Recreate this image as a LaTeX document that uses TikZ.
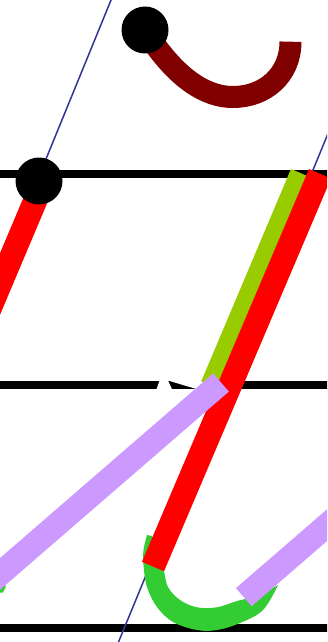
\documentclass[tikz,border=0pt]{standalone}
\definecolor{maroonc}{RGB}{128,0,0}
\definecolor{redc}{RGB}{255,0,0}
\definecolor{limec}{RGB}{153,204,0}
\definecolor{lavc}{RGB}{204,153,255}
\definecolor{greenc}{RGB}{51,204,51}
\definecolor{bluec}{RGB}{51,51,153}
\begin{document}
\begin{tikzpicture}[x=1pt,y=-1pt,
  rule/.style={line width=8pt,black},
  guide/.style={line width=1.5pt,bluec},
  pen/.style={line width=24pt,line cap=butt},
  dotc/.style={circle,fill=black,minimum size=47pt,inner sep=0pt,outer sep=0pt}]
\useasboundingbox (0,0) rectangle (327,642);
\begin{scope}
\clip (0,0) rectangle (327,642);
% ruling lines
\coordinate (r1a) at (-5,174);   \coordinate (r1b) at (332,174);
\coordinate (r2a) at (-5,384.5); \coordinate (r2b) at (332,384.5);
\coordinate (r3a) at (-5,627.5); \coordinate (r3b) at (332,627.5);
\draw[rule] (r1a) -- (r1b);
\draw[rule] (r2a) -- (r2b);
\draw[rule] (r3a) -- (r3b);
% white gap in the middle line
\fill[white] (156.5,389.2) -- (159.8,379.8) -- (210,379.8) -- (210,389.2)
  -- (197,389.2) -- (168,380.5) -- (172,389.2) -- cycle;
% slant guide lines
\coordinate (g1a) at (113.5,-6); \coordinate (g1b) at (37,181);
\coordinate (g2a) at (333.6,120); \coordinate (g2b) at (118.5,642);
\draw[guide] (g1a) -- (g1b);
\draw[guide] (g2a) -- (g2b);
% maroon hook with dot
\coordinate (m0) at (145,30); \coordinate (m1) at (233,97); \coordinate (m2) at (290.5,41.7);
\draw[line width=22pt,line cap=butt,maroonc] (m0) .. controls (170,70) and (200,97) .. (m1)
  .. controls (265,97) and (290.5,75) .. (m2);
\node[dotc] (d1) at (m0) {};
% left red stroke with dot
\coordinate (la) at (43.5,181); \coordinate (lb) at (-30,355);
\draw[pen,redc] (la) -- (lb);
\node[dotc] (d2) at (39,181) {};
% green U
\fill[greenc] plot[smooth,tension=0.6] coordinates {(147,535) (143.5,550) (143.5,565) (147,587) (157,607) (173,622) (197,630) (217,630) (240,623) (263,610) (278,585)}
  -- plot[smooth,tension=0.6] coordinates {(278,585) (268,590.5) (253,597) (237,601) (217,607.3) (197,607.3) (180,600) (168,587) (164,571) (159,553) (152,536)} -- cycle;
% long straight strokes
\coordinate (ga) at (302,173.7); \coordinate (gb) at (212.3,386);
\coordinate (ra) at (320,173.7); \coordinate (rb) at (153,566.5);
\draw[pen,limec] (ga) -- (gb);
\draw[pen,redc] (ra) -- (rb);
% small green bit at left
\fill[greenc] (0,580) -- (6,586) -- (3,592.5) -- (0,592.5) -- cycle;
% lavender strokes
\coordinate (va) at (221,382.5); \coordinate (vb) at (-30,599.9);
\coordinate (wa) at (243.8,597.2); \coordinate (wb) at (360,496.6);
\draw[pen,lavc] (va) -- (vb);
\draw[pen,lavc] (wa) -- (wb);
\end{scope}
\end{tikzpicture}
\end{document}
